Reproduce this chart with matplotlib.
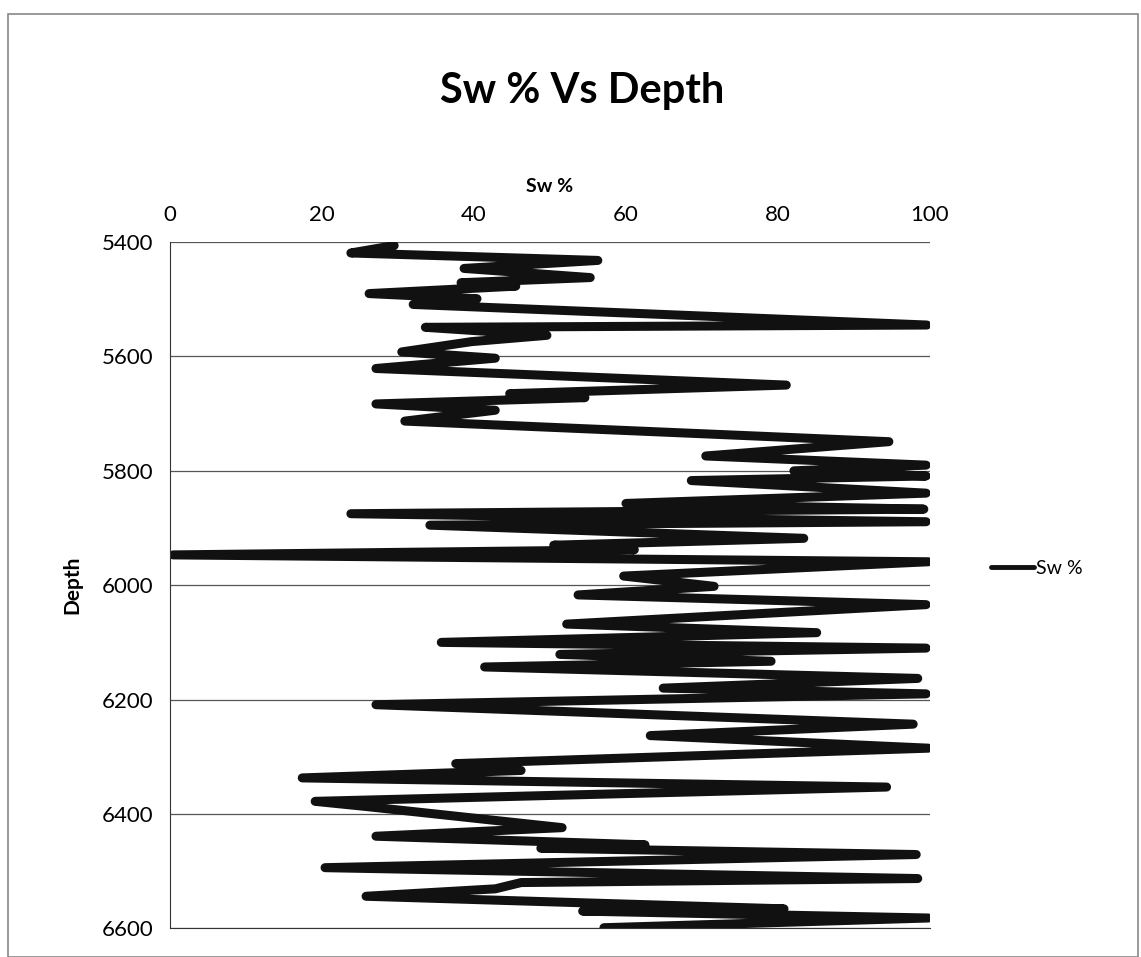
import matplotlib.pyplot as plt
from matplotlib.patches import Rectangle

# Sw % readings (vertices of the traced log) and depth in ft
sw = [29.5, 23.8, 56.3, 38.7, 55.3, 38.3, 45.5, 26.2, 40.4, 32.0,
      99.6, 33.6, 49.6, 39.7, 30.5, 42.8, 27.1, 81.1, 44.7, 54.6,
      27.1, 42.8, 30.9, 94.6, 70.5, 99.5, 82.1, 99.5, 68.6, 99.5,
      60.0, 99.2, 23.8, 99.5, 34.2, 83.4, 50.5, 61.1, 0.4, 99.8,
      59.7, 71.6, 53.7, 99.5, 52.2, 85.1, 35.7, 99.5, 51.3, 79.1,
      41.4, 98.4, 64.9, 99.5, 27.1, 97.8, 63.2, 99.8, 37.6, 46.2,
      17.4, 94.3, 19.1, 25.8, 51.6, 27.1, 62.5, 48.8, 98.2, 20.4,
      98.4, 46.2, 42.8, 25.8, 80.8, 54.3, 99.8, 57.1]
depth = [5406, 5419, 5432, 5446, 5462, 5471, 5477, 5490, 5499, 5509,
         5545, 5549, 5563, 5574, 5592, 5603, 5621, 5650, 5665, 5672,
         5683, 5694, 5713, 5749, 5774, 5790, 5800, 5809, 5817, 5839,
         5857, 5867, 5875, 5889, 5895, 5918, 5930, 5938, 5947, 5959,
         5984, 6002, 6017, 6034, 6068, 6083, 6100, 6110, 6121, 6133,
         6143, 6163, 6180, 6190, 6209, 6243, 6263, 6285, 6312, 6324,
         6337, 6353, 6378, 6387, 6424, 6439, 6454, 6460, 6471, 6494,
         6513, 6520, 6531, 6544, 6566, 6570, 6582, 6599]

x_ticks = [0, 20, 40, 60, 80, 100]
y_ticks = [5400, 5600, 5800, 6000, 6200, 6400, 6600]

plt.rcParams['font.family'] = ['Lato', 'DejaVu Sans']

fig = plt.figure(figsize=(11.41, 9.57), dpi=100)
# chart frame
fig.patches.append(Rectangle((0.007, 0.0), 0.99, 0.985, transform=fig.transFigure,
                             fill=False, edgecolor='#888888', linewidth=1.2))

ax = fig.add_axes([0.149, 0.030, 0.666, 0.717])

ax.plot(sw, depth, color='#111111', linewidth=6.5, label='Sw %',
        solid_joinstyle='round', solid_capstyle='round')

ax.set_xlim(0, 100)
ax.set_ylim(6600, 5400)
ax.set_xticks(x_ticks)
ax.set_yticks(y_ticks)
ax.xaxis.tick_top()
ax.xaxis.set_label_position('top')
ax.tick_params(length=0, labelsize=16, pad=12)
ax.yaxis.grid(True, color='#555555', linewidth=0.9)
ax.set_axisbelow(True)

for side in ['right', 'top']:
    ax.spines[side].set_visible(False)
ax.spines['left'].set_color('#333333')
ax.spines['bottom'].set_color('#333333')

ax.set_xlabel('Sw %', fontsize=14, fontweight='bold', labelpad=10)
ax.set_ylabel('Depth', fontsize=15, fontweight='bold', labelpad=14)
fig.suptitle('Sw % Vs Depth', fontsize=30, fontweight='bold', x=0.51, y=0.925)

leg = ax.legend(loc='center left', bbox_to_anchor=(1.07, 0.525), frameon=False,
                fontsize=14, handlelength=2.2, handletextpad=0.1, borderaxespad=0)
for line in leg.get_lines():
    line.set_linewidth(3.5)

fig.savefig('out.png', dpi=100)
